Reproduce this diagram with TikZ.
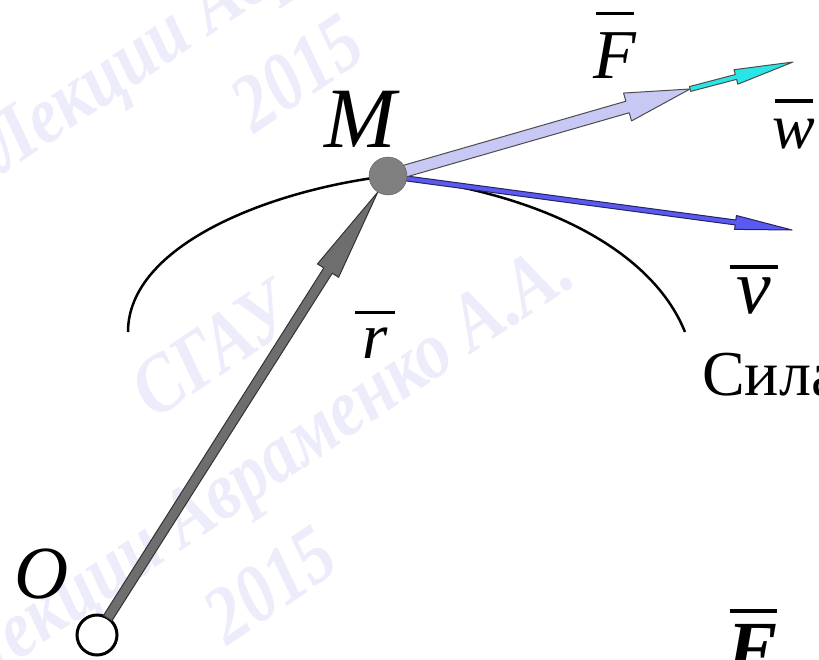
\documentclass[tikz,border=0pt]{standalone}
\usepackage{fontspec}
\setmainfont{Liberation Serif}
\usetikzlibrary{calc}
\definecolor{rodgray}{RGB}{110,110,110}
\definecolor{ptgray}{RGB}{128,128,128}
\definecolor{flav}{RGB}{200,200,245}
\definecolor{wcyan}{RGB}{40,230,230}
\definecolor{vblue}{RGB}{90,90,240}
\definecolor{wmark}{RGB}{236,236,251}
% outlined fat vector: from, to, shaft half width, head length, head half width, fill, edge
\newcommand\fatvec[7]{%
  \coordinate (hb) at ($(#2)!#4!(#1)$);
  \filldraw[fill=#6,draw=#7,line width=1pt,line join=round]
    ($(#1)!#3!90:(#2)$) -- ($(hb)!#3!90:(#2)$) -- ($(hb)!#5!90:(#2)$) -- (#2)
    -- ($(hb)!#5!-90:(#2)$) -- ($(hb)!#3!-90:(#2)$) -- ($(#1)!#3!-90:(#2)$) -- cycle;}
% letter with a bar over it: gap, bar width, letter
\newcommand\ovl[3]{\leavevmode\vbox{\hrule height 0.055em\kern#1\hbox to #2{\hss\itshape #3\hss}}}

\begin{document}
\begin{tikzpicture}[x=1pt,y=-1pt,
  lbl/.style={inner sep=0pt,anchor=base},
  wm/.style={text=wmark,font=\fontsize{82}{100}\selectfont\bfseries\itshape,rotate=34,xscale=0.85}]
  \useasboundingbox (0,0) rectangle (819,659);
  % watermark
  \node[wm] at (242,-157) {СГАУ};
  \node[wm] at (295,-44) {Лекции Авраменко А.А.};
  \node[wm] at (297,73) {2015};
  \node[wm] at (212,350) {СГАУ};
  \node[wm] at (268,470) {Лекции Авраменко А.А.};
  \node[wm] at (270,585) {2015};
  % trajectory
  \draw[line width=2.5pt] (128,332) .. controls (128,245) and (270,190) .. (388,176)
    .. controls (530,190) and (650,245) .. (685,332);
  % points and free ends
  \coordinate (M) at (388,176);
  \node[circle,draw,line width=3pt,fill=white,minimum size=40pt,inner sep=0pt] (O) at (97,635) {};
  \coordinate (Fend) at (690,89);
  \coordinate (wend) at (793,62);
  \coordinate (vend) at (792,230);
  \coordinate (rs) at ($(O)!20pt!(M)$);
  \coordinate (re) at ($(M)!19pt!(O)$);
  % vectors
  \fatvec{M}{vend}{2.5pt}{57pt}{7pt}{vblue}{vblue!40!black}
  \fatvec{M}{Fend}{6pt}{65pt}{14.5pt}{flav}{black!70}
  \fatvec{Fend}{wend}{2.5pt}{59pt}{7.5pt}{wcyan}{black!70}
  \fatvec{rs}{re}{5pt}{93pt}{12.5pt}{rodgray}{black!80}
  \node[circle,draw=ptgray!70!black,fill=ptgray,minimum size=38pt,inner sep=0pt] (Mdot) at (M) {};
  % labels
  \node[lbl,font=\fontsize{86}{90}\selectfont\itshape] (Mlab) at (360,147) {M};
  \node[lbl,font=\fontsize{75}{80}\selectfont\itshape] (Olab) at (42,598) {O};
  \node[lbl,font=\fontsize{70}{80}\selectfont] (Flab) at (615,78) {\ovl{0.24em}{38pt}{F}};
  \node[lbl,font=\fontsize{64}{70}\selectfont] (wlab) at (794,148) {\ovl{0.25em}{38pt}{w}};
  \node[lbl,font=\fontsize{78}{84}\selectfont] (vlab) at (754,313) {\ovl{0.1em}{48pt}{v}};
  \node[lbl,font=\fontsize{65}{70}\selectfont] (rlab) at (375,358) {\ovl{0.2em}{40pt}{r}};
  \node[lbl,anchor=base west,font=\fontsize{64}{68}\selectfont] (sila) at (702,395) {Сила};
  \node[lbl,font=\fontsize{75}{80}\selectfont\bfseries] (F2lab) at (753,673) {\ovl{0.15em}{47pt}{F}};
\end{tikzpicture}
\end{document}
